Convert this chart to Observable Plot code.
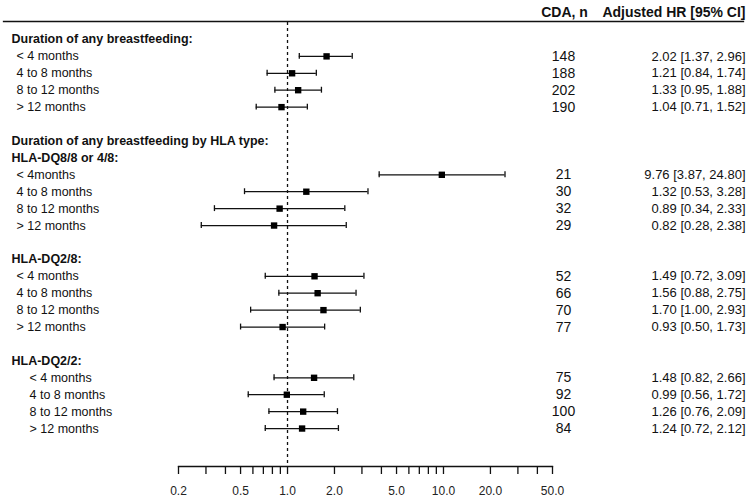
<!DOCTYPE html>
<html>
<head>
<meta charset="utf-8">
<script src="https://cdn.jsdelivr.net/npm/d3@7"></script>
<script src="https://cdn.jsdelivr.net/npm/@observablehq/plot@0.6"></script>
<style>
  html, body { margin: 0; padding: 0; background: #fff; }
</style>
</head>
<body>
<div id="chart"></div>
<script>
// ---- data ----
const sectionTitle = "Duration of any breastfeeding by HLA type:";
const groupTitles = ["Duration of any breastfeeding:", "HLA-DQ8/8 or 4/8:", "HLA-DQ2/8:", "HLA-DQ2/2:"];
const labelsAny  = ["< 4 months", "4 to 8 months", "8 to 12 months", "> 12 months"];
const labelsDQ88 = ["< 4months", "4 to 8 months", "8 to 12 months", "> 12 months"];
const labelsDQ28 = ["< 4 months", "4 to 8 months", "8 to 12 months", "> 12 months"];
const labelsDQ22 = ["< 4 months", "4 to 8 months", "8 to 12 months", "> 12 months"];

const nAny  = [148, 188, 202, 190];
const nDQ88 = [21, 30, 32, 29];
const nDQ28 = [52, 66, 70, 77];
const nDQ22 = [75, 92, 100, 84];

// plotted positions (as drawn in the figure)
const hrAny  = [1.78, 1.07, 1.17, 0.915];
const loAny  = [1.19, 0.74, 0.83, 0.63];
const hiAny  = [2.60, 1.53, 1.65, 1.34];
const hrDQ88 = [9.76, 1.32, 0.89, 0.82];
const loDQ88 = [3.87, 0.53, 0.34, 0.28];
const hiDQ88 = [24.80, 3.28, 2.33, 2.38];
const hrDQ28 = [1.49, 1.56, 1.70, 0.93];
const loDQ28 = [0.72, 0.88, 0.58, 0.50];
const hiDQ28 = [3.09, 2.75, 2.93, 1.73];
const hrDQ22 = [1.48, 0.99, 1.26, 1.24];
const loDQ22 = [0.82, 0.56, 0.76, 0.72];
const hiDQ22 = [2.66, 1.72, 2.09, 2.12];

// printed text column
const ciAny  = ["2.02 [1.37, 2.96]", "1.21 [0.84, 1.74]", "1.33 [0.95, 1.88]", "1.04 [0.71, 1.52]"];
const ciDQ88 = ["9.76 [3.87, 24.80]", "1.32 [0.53, 3.28]", "0.89 [0.34, 2.33]", "0.82 [0.28, 2.38]"];
const ciDQ28 = ["1.49 [0.72, 3.09]", "1.56 [0.88, 2.75]", "1.70 [1.00, 2.93]", "0.93 [0.50, 1.73]"];
const ciDQ22 = ["1.48 [0.82, 2.66]", "0.99 [0.56, 1.72]", "1.26 [0.76, 2.09]", "1.24 [0.72, 2.12]"];

const xTicks  = [0.2, 0.3, 0.4, 0.5, 0.6, 0.7, 0.8, 0.9, 1, 2, 3, 4, 5, 6, 7, 8, 9, 10, 20, 30, 40, 50];
const xLabels = [0.2, 0.5, 1, 2, 5, 10, 20, 50];
const colHeaders = ["CDA, n", "Adjusted HR [95% CI]"];

// ---- build rows ----
const groups = [
  {labels: labelsAny,  n: nAny,  hr: hrAny,  lo: loAny,  hi: hiAny,  ci: ciAny},
  {labels: labelsDQ88, n: nDQ88, hr: hrDQ88, lo: loDQ88, hi: hiDQ88, ci: ciDQ88},
  {labels: labelsDQ28, n: nDQ28, hr: hrDQ28, lo: loDQ28, hi: hiDQ28, ci: ciDQ28},
  {labels: labelsDQ22, n: nDQ22, hr: hrDQ22, lo: loDQ22, hi: hiDQ22, ci: ciDQ22}
];
const keys = [];
const headers = [];
const items = [];
groups.forEach((g, gi) => {
  if (gi > 0) keys.push("blank" + gi);
  if (gi === 1) { keys.push("section"); headers.push({key: "section", text: sectionTitle}); }
  keys.push("title" + gi);
  headers.push({key: "title" + gi, text: groupTitles[gi]});
  g.labels.forEach((lab, i) => {
    const key = "g" + gi + "r" + i;
    keys.push(key);
    items.push({key, group: gi, label: lab, n: g.n[i], hr: g.hr[i], lo: g.lo[i], hi: g.hi[i], ci: g.ci[i]});
  });
});
const itemsA = items.filter(d => d.group < 3);
const itemsB = items.filter(d => d.group === 3);

const ink = "#111";
const fmt = d3.format(".1f");
const chart = Plot.plot({
  width: 750,
  height: 503,
  marginTop: 22,
  marginBottom: 37,
  marginLeft: 178,
  marginRight: 198,
  style: {fontFamily: "'Liberation Sans', Arial, Helvetica, sans-serif", background: "#fff", color: ink},
  x: {type: "log", domain: [0.2, 50], axis: null, label: null},
  y: {type: "band", domain: keys, range: [30.5, 436.5], padding: 0, round: false, axis: null},
  marks: [
    // header rule
    Plot.frame({anchor: "top", insetTop: -1, insetLeft: -175, insetRight: -191, stroke: ink, strokeWidth: 1.3}),
    // column headers
    Plot.text([colHeaders[0]], {frameAnchor: "top-right", text: d => d, dx: 12, dy: -10, lineAnchor: "middle", textAnchor: "middle", fontWeight: "bold", fontSize: 14, fill: ink}),
    Plot.text([colHeaders[1]], {frameAnchor: "top-right", text: d => d, dx: 193, dy: -10, lineAnchor: "middle", textAnchor: "end", fontWeight: "bold", fontSize: 14, fill: ink}),
    // reference line
    Plot.ruleX([1], {stroke: ink, strokeWidth: 1.3, strokeDasharray: "3,3"}),
    // axis
    Plot.frame({anchor: "bottom", stroke: ink, strokeWidth: 1.3}),
    Plot.axisX(xTicks, {anchor: "bottom", tickSize: 8, tickFormat: () => "", label: null, stroke: ink, strokeWidth: 1.3}),
    Plot.text(xLabels, {x: d => d, text: d => fmt(d), frameAnchor: "bottom", dy: 25, lineAnchor: "middle", fontSize: 12, fill: "#222"}),
    // left labels
    Plot.text(headers, {y: "key", text: "text", frameAnchor: "left", dx: -167, textAnchor: "start", fontWeight: "bold", fontSize: 12.5, fill: ink}),
    Plot.text(itemsA, {y: "key", text: "label", frameAnchor: "left", dx: -162, textAnchor: "start", fontSize: 12.5, fill: ink}),
    Plot.text(itemsB, {y: "key", text: "label", frameAnchor: "left", dx: -149, textAnchor: "start", fontSize: 12.5, fill: ink}),
    // CIs
    Plot.ruleY(items, {y: "key", x1: "lo", x2: "hi", stroke: ink, strokeWidth: 1.3}),
    Plot.tickX(items, {x: "lo", y: "key", insetTop: 5.5, insetBottom: 5.5, stroke: ink, strokeWidth: 1.3}),
    Plot.tickX(items, {x: "hi", y: "key", insetTop: 5.5, insetBottom: 5.5, stroke: ink, strokeWidth: 1.3}),
    Plot.dot(items, {x: "hr", y: "key", symbol: "square", r: 3.6, fill: "#000", stroke: null}),
    // right columns
    Plot.text(items, {y: "key", text: "n", frameAnchor: "right", dx: 11, textAnchor: "middle", fontSize: 14, fill: ink}),
    Plot.text(items, {y: "key", text: "ci", frameAnchor: "right", dx: 193, textAnchor: "end", fontSize: 13, fill: ink})
  ]
});
document.getElementById("chart").appendChild(chart);
</script>
</body>
</html>
